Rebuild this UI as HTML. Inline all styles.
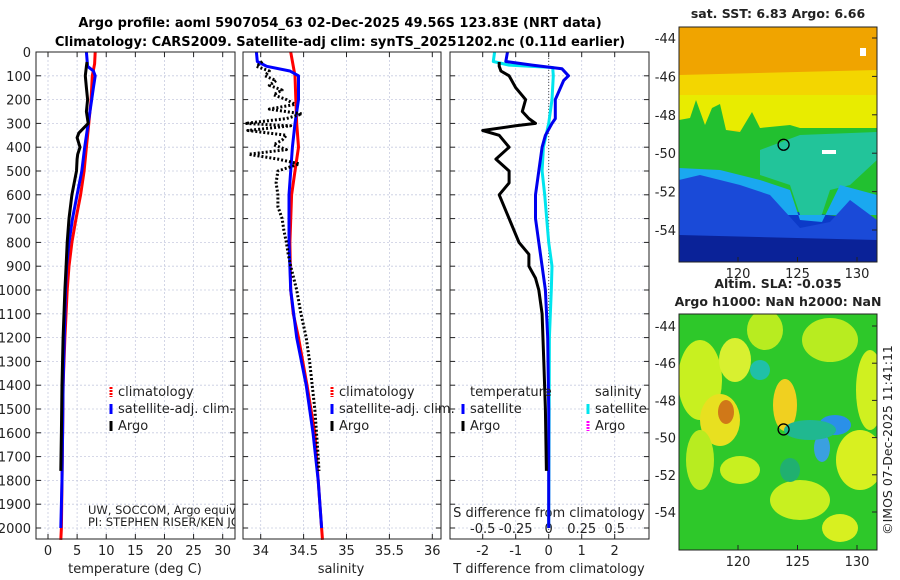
<!DOCTYPE html>
<html><head><meta charset="utf-8">
<style>
html,body{margin:0;padding:0;background:#fff;}
svg{display:block;font-family:"DejaVu Sans","Liberation Sans",sans-serif;}
</style></head>
<body>
<svg id="chart" width="900" height="580" viewBox="0 0 900 580" xmlns="http://www.w3.org/2000/svg">
<text x="340" y="27" text-anchor="middle" font-size="13" font-weight="bold">Argo profile: aoml 5907054_63 02-Dec-2025 49.56S 123.83E (NRT data)</text>
<text x="340" y="46" text-anchor="middle" font-size="13" font-weight="bold">Climatology: CARS2009. Satellite-adj clim: synTS_20251202.nc (0.11d earlier)</text>
</svg>
<script>
// ---------- data ----------
const depthTicks = [0,100,200,300,400,500,600,700,800,900,1000,1100,1200,1300,1400,1500,1600,1700,1800,1900,2000];
const tempTicks = [0,5,10,15,20,25,30];
const salTicks = [34,34.5,35,35.5,36];
const salTickLabels = ["34","34.5","35","35.5","36"];
const tdiffTicks = [-2,-1,0,1,2];
const sdiffTicks = [-0.5,-0.25,0,0.25,0.5];
const sdiffTickLabels = ["-0.5","-0.25","0","0.25","0.5"];

const tClimDepth = [0,50,100,200,300,400,500,600,700,800,900,1000,1200,1400,1600,1800,2000,2050];
const tClimVal   = [8.1,8.0,7.6,7.4,7.0,6.6,6.2,5.6,4.8,4.1,3.6,3.3,2.9,2.6,2.5,2.4,2.3,2.2];
const tSatDepth = [0,60,80,100,150,200,300,400,500,600,700,800,900,1000,1200,1400,1600,1800,2000];
const tSatVal   = [6.6,6.8,7.8,8.1,7.8,7.5,6.9,6.3,5.8,5.0,4.2,3.6,3.2,3.0,2.8,2.6,2.5,2.4,2.2];
const tArgoDepth = [42,60,100,150,200,250,300,320,340,360,400,430,450,500,600,700,800,900,1000,1200,1400,1600,1760];
const tArgoVal   = [6.7,6.6,6.4,6.6,6.8,6.6,6.9,6.1,5.3,5.0,5.5,5.1,5.0,4.9,4.1,3.6,3.3,3.1,2.9,2.6,2.4,2.3,2.2];

const sClimDepth = [0,100,300,400,500,600,800,1000,1100,1200,1400,1600,1800,2000,2050];
const sClimVal   = [34.35,34.40,34.42,34.44,34.40,34.36,34.34,34.35,34.38,34.44,34.54,34.63,34.67,34.71,34.72];
const sSatDepth = [0,40,60,80,100,200,300,400,500,600,800,1000,1200,1400,1600,1800,2000];
const sSatVal   = [33.95,33.96,34.07,34.34,34.44,34.44,34.40,34.37,34.35,34.33,34.33,34.35,34.42,34.53,34.61,34.67,34.71];
const sArgoDepth = [40,60,80,100,120,140,160,180,200,220,240,260,280,300,310,330,350,370,390,410,430,450,470,500,550,600,650,700,750,800,850,900,1000,1100,1200,1300,1400,1500,1600,1700,1760];
const sArgoVal   = [34.02,33.95,34.10,34.05,34.18,34.10,34.25,34.15,34.30,34.40,34.10,34.48,34.30,33.82,34.35,33.85,34.30,34.25,34.15,34.30,33.86,34.20,34.45,34.20,34.18,34.20,34.20,34.25,34.27,34.30,34.32,34.35,34.42,34.47,34.53,34.57,34.60,34.63,34.65,34.67,34.68];

const dTArgoDepth = [42,60,80,100,150,200,250,280,300,310,330,350,400,450,500,550,600,700,800,850,900,950,1000,1100,1300,1500,1760];
const dTArgoVal   = [-1.5,-1.5,-1.45,-1.2,-1.0,-0.7,-0.8,-0.6,-0.4,-1.0,-2.0,-1.5,-1.2,-1.6,-1.2,-1.2,-1.5,-1.2,-0.9,-0.6,-0.6,-0.4,-0.3,-0.2,-0.15,-0.1,-0.07];
const dTSatDepth = [0,40,55,70,100,120,200,280,300,350,400,500,600,700,800,900,1000,1200,1500,2000];
const dTSatVal   = [-1.25,-1.3,-0.5,0.4,0.6,0.45,0.2,0.2,0.1,-0.1,-0.2,-0.3,-0.4,-0.4,-0.3,-0.2,-0.1,-0.03,0,0];
const dSSatDepth = [0,40,55,65,100,200,300,400,500,600,700,800,900,1000,1200,2000];
const dSSatVal   = [-0.41,-0.42,-0.3,0.03,0.035,0.025,0,-0.04,-0.05,-0.03,-0.015,0,0.025,0.02,0.005,0];

const lonTicks = [120,125,130];
const latTicks = [-44,-46,-48,-50,-52,-54];
const floatLon = 123.83;
const floatLat = -49.56;
// ---------- drawing ----------
const NS="http://www.w3.org/2000/svg";
const svg=document.getElementById('chart');
function el(tag,attrs,parent){const e=document.createElementNS(NS,tag);for(const k in attrs)e.setAttribute(k,attrs[k]);(parent||svg).appendChild(e);return e;}
function txt(s,x,y,attrs,parent){const t=el('text',Object.assign({x:x,y:y,'font-size':13,fill:'#222'},attrs||{}),parent);t.textContent=s;return t;}

const TOP=52, BOT=539;
function yDepth(d){return TOP+d*(528-TOP)/2000;}
function mkX(x0,v0,x1,v1){return v=>x0+(v-v0)*(x1-x0)/(v1-v0);}
const panels=[
 {name:'temperature-panel',L:36,R:235,x:mkX(48,0,222.7,30)},
 {name:'salinity-panel',L:243,R:441,x:mkX(260.7,34,432.3,36)},
 {name:'difference-panel',L:450,R:649,x:mkX(548.7,0,614.7,2)}
];
function frame(p){
 const g=el('g',{});
 
 
 depthTicks.forEach(d=>{const y=yDepth(d);
  const gl=el('line',{x1:p.L,x2:p.R,y1:y,y2:y,stroke:'#c8cce0','stroke-width':0.8,'stroke-dasharray':'2 2'},g);
  
  
  el('line',{x1:p.L,x2:p.L+5,y1:y,y2:y,stroke:'#222'},g);
  el('line',{x1:p.R-5,x2:p.R,y1:y,y2:y,stroke:'#222'},g);
 });
 return g;
}
const gT=frame(panels[0]), gS=frame(panels[1]), gD=frame(panels[2]);
depthTicks.forEach(d=>{const t=txt(String(d),31,yDepth(d)+5,{'text-anchor':'end'});
 
 });
function xgrid(g,p,ticks,labels,ly){
 ticks.forEach((v,i)=>{const x=p.x(v);
  const gl=el('line',{x1:x,x2:x,y1:TOP,y2:BOT,stroke:'#c8cce0','stroke-width':0.8,'stroke-dasharray':'2 2'},g);
  
  
  el('line',{x1:x,x2:x,y1:BOT-5,y2:BOT,stroke:'#222'},g);
  el('line',{x1:x,x2:x,y1:TOP,y2:TOP+5,stroke:'#222'},g);
  if(labels){const t=txt(labels[i],x,ly,{'text-anchor':'middle'},g);
   
   }
 });
}
xgrid(gT,panels[0],tempTicks,tempTicks.map(String),555);
xgrid(gS,panels[1],salTicks,salTickLabels,555);
xgrid(gD,panels[2],tdiffTicks,tdiffTicks.map(String),555);
el('line',{x1:panels[2].x(0),x2:panels[2].x(0),y1:TOP,y2:BOT,stroke:'#555','stroke-width':1,'stroke-dasharray':'1 2'},gD);
sdiffTicks.forEach((v,i)=>{const x=panels[2].x(v*4);
 const t=txt(sdiffTickLabels[i],x,533,{'text-anchor':'middle'},gD);
 
 });
const sdt=txt('S difference from climatology',549,517,{'text-anchor':'middle'},gD);



function series(g,p,depths,vals,color,w,dash,name,scale){
 const pts=depths.map((d,i)=>p.x(vals[i]*(scale||1)).toFixed(1)+','+yDepth(d).toFixed(1)).join(' ');
 const a={points:pts,fill:'none',stroke:color,'stroke-width':w,'stroke-linejoin':'round'};
 if(dash)a['stroke-dasharray']=dash;
 const pl=el('polyline',a,g);
 
 
}
series(gT,panels[0],tClimDepth,tClimVal,'#ff0000',3,null,'temp-climatology-line');
series(gT,panels[0],tSatDepth,tSatVal,'#0000ff',3,null,'temp-satellite-line');
series(gT,panels[0],tArgoDepth,tArgoVal,'#000',3,null,'temp-argo-line');
series(gS,panels[1],sClimDepth,sClimVal,'#ff0000',3,null,'sal-climatology-line');
series(gS,panels[1],sSatDepth,sSatVal,'#0000ff',3,null,'sal-satellite-line');
series(gS,panels[1],sArgoDepth,sArgoVal,'#000',3,'2 2','sal-argo-line');
series(gD,panels[2],dSSatDepth,dSSatVal,'#00e5ee',3,null,'sdiff-satellite-line',4);
series(gD,panels[2],dTSatDepth,dTSatVal,'#0000ee',3,null,'tdiff-satellite-line');
series(gD,panels[2],dTArgoDepth,dTArgoVal,'#000',3,null,'tdiff-argo-line');

panels.forEach(p=>{const r=el('rect',{x:p.L,y:TOP,width:p.R-p.L,height:BOT-TOP,fill:'none',stroke:'#222','stroke-width':1});
 
 });

[['temperature (deg C)',135,'x-axis-title-temperature'],['salinity',341,'x-axis-title-salinity'],['T difference from climatology',549,'x-axis-title-tdiff']].forEach(a=>{
 const t=txt(a[0],a[1],573,{'text-anchor':'middle'});
 
 });

function legend(x,y,color,label,dash){
 const m=el('line',{x1:x,x2:x,y1:y-9,y2:y+1,stroke:color,'stroke-width':3});
 if(dash)m.setAttribute('stroke-dasharray','2 1');
 
 
 const t=txt(label,x+7,y);
 
 
}
legend(111,396,'#ff0000','climatology',true);legend(111,413,'#0000ff','satellite-adj. clim.');legend(111,430,'#000','Argo');
legend(332,396,'#ff0000','climatology',true);legend(332,413,'#0000ff','satellite-adj. clim.');legend(332,430,'#000','Argo');
let lt=txt('temperature',470,396);
legend(463,413,'#0000ff','satellite');legend(463,430,'#000','Argo');
lt=txt('salinity',595,396);
legend(588,413,'#00e5ee','satellite');legend(588,430,'#ff00ff','Argo',true);

const cp=el('clipPath',{id:'clipT'});el('rect',{x:36,y:480,width:199,height:58},cp);
let pt=txt('UW, SOCCOM, Argo equivalent',88,514,{'font-size':11.5,'clip-path':'url(#clipT)'});

pt=txt('PI: STEPHEN RISER/KEN JOHNSON',88,526,{'font-size':11.5,'clip-path':'url(#clipT)'});


// ---------- maps ----------
function mapPanel(name,top,bot,lat44,lat54,title1,title2,drawFn){
 const L=679,R=877;
 const g=el('g',{});
 
 
 const clip=el('clipPath',{id:'c'+name},g);el('rect',{x:L,y:top,width:R-L,height:bot-top},clip);
 const inner=el('g',{'clip-path':'url(#c'+name+')'},g);
 const lonX=lon=>738+(lon-120)*11.9;
 const latY=lat=>lat44+(-44-lat)*(lat54-lat44)/10;
 drawFn(inner,lonX,latY,L,R,top,bot);
 el('rect',{x:L,y:top,width:R-L,height:bot-top,fill:'none',stroke:'#222'},g);
 latTicks.forEach(la=>{const y=latY(la);el('line',{x1:R-5,x2:R,y1:y,y2:y,stroke:'#222'},g);
  const t=txt(String(la),676,y+5,{'text-anchor':'end'},g);
  });
 lonTicks.forEach(lo=>{const x=lonX(lo);el('line',{x1:x,x2:x,y1:bot-5,y2:bot,stroke:'#222'},g);
  const t=txt(String(lo),x,bot+16,{'text-anchor':'middle'},g);
  });
 const c=el('circle',{cx:lonX(floatLon),cy:latY(floatLat),r:5.5,fill:'none',stroke:'#000','stroke-width':1.3},g);
 
 let t=txt(title1,778,title2?top-26:top-9,{'text-anchor':'middle','font-weight':'bold','font-size':12.5},g);
 
 if(title2){t=txt(title2,778,top-8,{'text-anchor':'middle','font-weight':'bold','font-size':12.5},g);
  }
}
function poly(g,pts,fill){el('polygon',{points:pts,fill:fill},g);}
mapPanel('sst-map',27,262,38,230,'sat. SST: 6.83 Argo: 6.66',null,(g,X,Y,L,R,T,B)=>{
 el('rect',{x:L,y:T,width:R-L,height:B-T,fill:'#0c3ac8'},g);
 poly(g,'679,27 877,27 877,110 679,110','#f0a400');
 poly(g,'679,75 877,70 877,140 679,140','#f3d600');
 poly(g,'679,95 877,95 877,130 679,130','#e8ec00');
 poly(g,'679,120 690,118 696,100 705,125 712,108 720,104 726,130 740,132 752,112 760,128 790,125 800,128 877,128 877,220 679,200','#22c030');
 poly(g,'760,150 800,135 877,132 877,160 850,185 830,190 820,220 800,215 790,185 760,175','#22c49a');
 poly(g,'679,168 720,170 760,180 790,190 800,220 822,222 840,185 877,195 877,215 679,215','#1aa8f0');
 poly(g,'679,180 700,175 740,185 770,195 800,228 830,222 850,200 877,220 877,262 679,262','#1a4ad8');
 poly(g,'679,235 877,240 877,262 679,262','#0a2298');
 el('rect',{x:860,y:48,width:6,height:8,fill:'#fff'},g);
 el('rect',{x:822,y:150,width:14,height:4,fill:'#fff'},g);
});
mapPanel('sla-map',314,550,326,512,'Altim. SLA: -0.035','Argo h1000: NaN h2000: NaN',(g,X,Y,L,R,T,B)=>{
 el('rect',{x:L,y:T,width:R-L,height:B-T,fill:'#2ec82a'},g);
 const blobs=[[700,380,22,40,'#c8f020'],[735,360,16,22,'#d8f030'],[765,330,18,20,'#b8ec20'],[830,340,28,22,'#b8ec20'],[870,390,14,40,'#d0f020'],[720,420,20,26,'#e8e020'],[726,412,8,12,'#d07818'],[785,405,12,26,'#f0d020'],[860,460,24,30,'#d8f020'],[740,470,20,14,'#c8f020'],[800,500,30,20,'#c8f020'],[840,528,18,14,'#d8f020'],[700,460,14,30,'#b8ec20']];
 blobs.forEach(b=>el('ellipse',{cx:b[0],cy:b[1],rx:b[2],ry:b[3],fill:b[4]},g));
 const cool=[[760,370,10,10,'#20c0a8'],[835,425,16,10,'#2a90e8'],[822,448,8,14,'#3aa0e0'],[810,430,26,10,'#20b890'],[790,470,10,12,'#20b070']];
 cool.forEach(b=>el('ellipse',{cx:b[0],cy:b[1],rx:b[2],ry:b[3],fill:b[4]},g));
});
const cr=txt('©IMOS 07-Dec-2025 11:41:11',0,0,{'font-size':12.5,'text-anchor':'middle',transform:'translate(892,440) rotate(-90)'});

</script>
</body></html>
